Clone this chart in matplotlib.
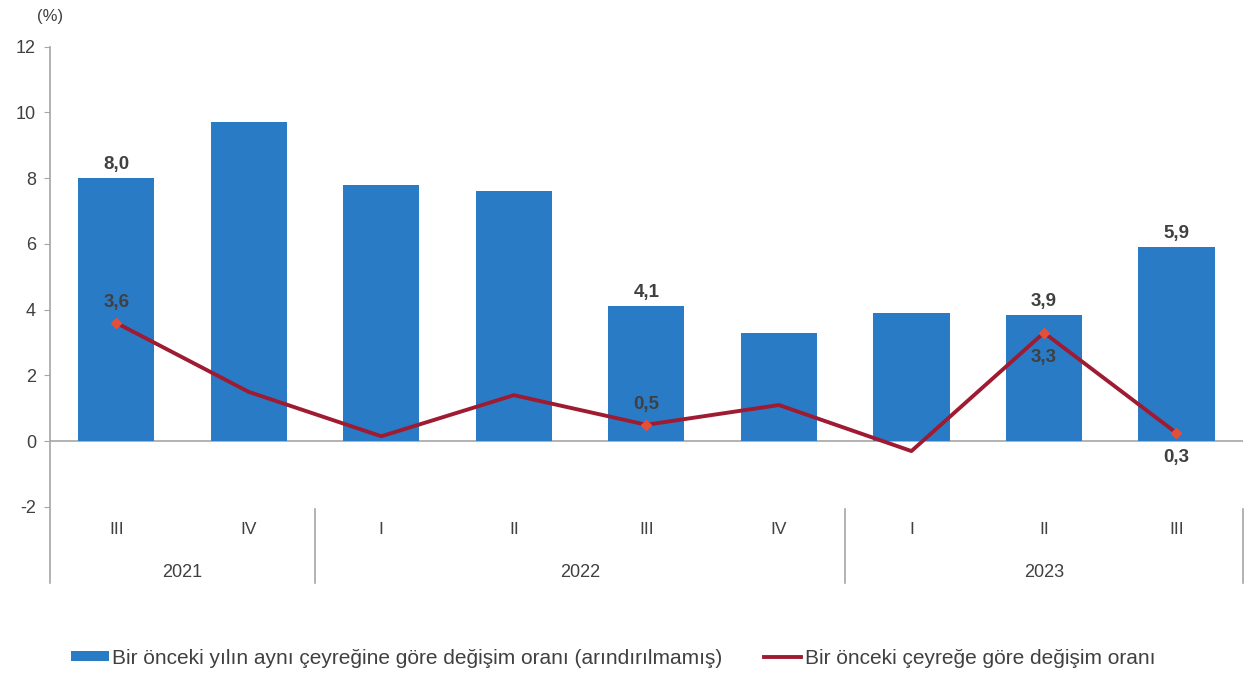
import numpy as np
import matplotlib
matplotlib.use("Agg")
from matplotlib import pyplot as plt
from matplotlib.patches import Patch
from matplotlib.lines import Line2D

plt.rcParams["font.family"] = ["Liberation Sans", "DejaVu Sans"]

# Data
quarters = ["III", "IV", "I", "II", "III", "IV", "I", "II", "III"]
years = ["2021", "2022", "2023"]
year_counts = [2, 4, 3]
yoy = [8.0, 9.7, 7.8, 7.6, 4.1, 3.3, 3.9, 3.85, 5.9]
qoq = [3.6, 1.5, 0.15, 1.4, 0.5, 1.1, -0.3, 3.3, 0.25]
yoy_labels = {0: "8,0", 4: "4,1", 7: "3,9", 8: "5,9"}
qoq_labels = {0: ("3,6", "above"), 4: ("0,5", "above"), 7: ("3,3", "below"), 8: ("0,3", "below")}
legend_labels = ["Bir önceki yılın aynı çeyreğine göre değişim oranı (arındırılmamış)",
                 "Bir önceki çeyreğe göre değişim oranı"]

bar_color = "#2A7BC6"
line_color = "#9E1B32"
marker_color = "#E0503C"
axis_color = "#A6A6A6"
text_color = "#404040"

fig = plt.figure(figsize=(12.49, 6.77), dpi=100)
ax = fig.add_axes([0.040, 0.139, 0.955, 0.792])

x = np.arange(len(quarters))
ax.bar(x, yoy, width=0.575, color=bar_color, zorder=2)
ax.axhline(0, color=axis_color, lw=1.2, zorder=1)
ax.plot(x, qoq, color=line_color, lw=2.8, zorder=3,
        marker="D", markevery=list(qoq_labels.keys()), markersize=5.5,
        markerfacecolor=marker_color, markeredgecolor=marker_color)

for i, s in yoy_labels.items():
    ax.text(x[i], yoy[i] + 0.15, s, ha="center", va="bottom",
            fontsize=13.5, fontweight="bold", color=text_color)
for i, (s, pos) in qoq_labels.items():
    if pos == "above":
        ax.text(x[i], qoq[i] + 0.35, s, ha="center", va="bottom",
                fontsize=13.5, fontweight="bold", color=text_color)
    else:
        ax.text(x[i], qoq[i] - 0.5, s, ha="center", va="top",
                fontsize=13.5, fontweight="bold", color=text_color)

ax.set_xlim(-0.5, len(quarters) - 0.5)
ax.set_ylim(-4.31, 12)
ax.set_yticks(np.arange(-2, 13, 2))
ax.set_yticklabels([str(v) for v in range(-2, 13, 2)])
ax.tick_params(axis="y", length=4, color=axis_color, labelsize=13, labelcolor=text_color, pad=6)
ax.set_xticks([])

for side in ["top", "right", "bottom"]:
    ax.spines[side].set_visible(False)
ax.spines["left"].set_color(axis_color)
ax.spines["left"].set_linewidth(1.2)

# category axis: quarter and year labels with separators
for i, q in enumerate(quarters):
    ax.text(x[i], -2.7, q, ha="center", va="center", fontsize=12.5, color=text_color)
start = 0
for yr, n in zip(years, year_counts):
    ax.text(start + (n - 1) / 2, -3.98, yr, ha="center", va="center", fontsize=13, color=text_color)
    start += n
    ax.axvline(start - 0.5, ymin=0, ymax=0.137, color=axis_color, lw=1.2, clip_on=False)

fig.text(0.030, 0.975, "(%)", fontsize=12, color=text_color, ha="left", va="center")

handles = [Patch(facecolor=bar_color), Line2D([0], [0], color=line_color, lw=2.8)]
fig.legend(handles, legend_labels, loc="center", bbox_to_anchor=(0.491, 0.028),
           ncol=2, frameon=False, fontsize=15, handlelength=1.8, handleheight=0.4,
           handletextpad=0.15, columnspacing=2.0, labelcolor=text_color)

plt.savefig("out.png", dpi=100)
